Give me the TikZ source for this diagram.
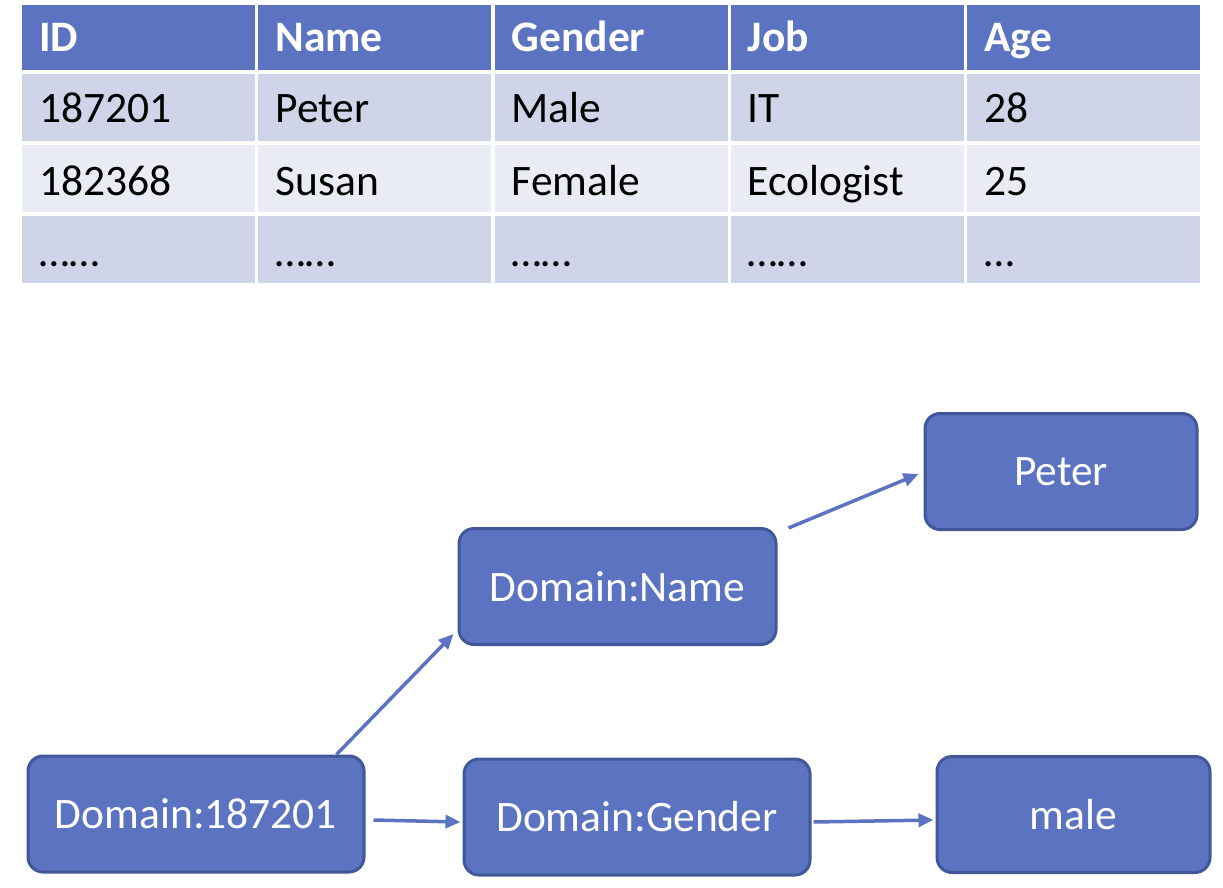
\documentclass[tikz,border=0pt]{standalone}
\usepackage{fontspec}
\setmainfont{Carlito}
\usetikzlibrary{arrows.meta,positioning}
\definecolor{tblue}{HTML}{5B73C1}
\definecolor{tedge}{HTML}{41579A}
\definecolor{rowa}{HTML}{CFD4E8}
\definecolor{rowb}{HTML}{E9EBF5}
\tikzset{
  dom/.style={draw=tedge,line width=3pt,fill=tblue,rounded corners=15pt,text=white,
    font=\fontsize{43.5}{52}\selectfont,inner sep=0pt,minimum height=116pt},
  conn/.style={tblue,line width=3.5pt,-{Triangle[length=15pt,width=13pt]}},
  cell/.style={anchor=base west,inner sep=0pt,font=\fontsize{43.5}{52}\selectfont},
}
\begin{document}
\begin{tikzpicture}[x=1pt,y=-1pt]
\useasboundingbox (0,0) rectangle (1223,888);
% table
\foreach \hd/\ra/\rb/\rc [count=\i from 0] in {ID/187201/182368/{……},Name/Peter/Susan/{……},Gender/Male/Female/{……},Job/IT/Ecologist/{……},Age/28/25/{…}}{
  \pgfmathsetmacro\xl{22+236.25*\i}
  \fill[tblue] (\xl,5) rectangle ++(233,65);
  \fill[rowa] (\xl,74) rectangle ++(233,67);
  \fill[rowb] (\xl,145) rectangle ++(233,67);
  \fill[rowa] (\xl,216) rectangle ++(233,67);
  \node[cell,text=white,font=\fontsize{43.5}{52}\selectfont\bfseries] (h\i) at (\xl+17,52) {\hd};
  \node[cell] (a\i) at (\xl+17,123) {\ra};
  \node[cell] (b\i) at (\xl+17,195) {\rb};
  \node[cell] (c\i) at (\xl+17,266) {\rc};
}
% domain graph
\node[dom,minimum width=336pt] (id) at (196,814) {Domain:187201};
\node[dom,minimum width=317pt] (name) at (617.5,586.5) {Domain:Name};
\node[dom,minimum width=346pt] (gender) at (637,817) {Domain:Gender};
\node[dom,minimum width=272pt] (peter) at (1061,471.5) {Peter};
\node[dom,minimum width=273pt] (male) at (1073.5,814.5) {male};
\draw[conn] ([xshift=-29pt]id.north east) -- ([shift={(-4pt,12pt)}]name.south west);
\draw[conn] ([shift={(11pt,-1pt)}]name.north east) -- ([shift={(-5pt,-2.5pt)}]peter.west);
\draw[conn] ([shift={(8pt,-6pt)}]id.east) -- ([shift={(-2pt,-5pt)}]gender.west);
\draw[conn] ([shift={(2pt,-5pt)}]gender.east) -- ([shift={(-2pt,-5.5pt)}]male.west);
\end{tikzpicture}
\end{document}
